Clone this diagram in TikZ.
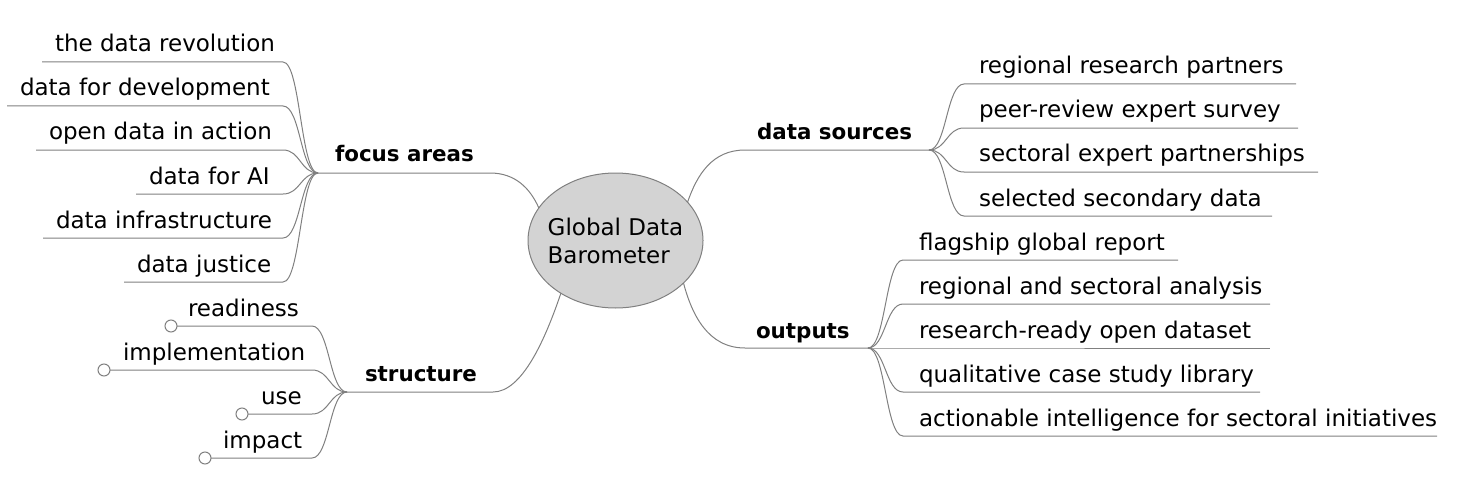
\documentclass[tikz,border=0pt]{standalone}
\usepackage{fontspec}
\setmainfont{DejaVu Sans}
\usetikzlibrary{shapes.geometric}
\definecolor{edgegray}{HTML}{808080}
\definecolor{rootfill}{HTML}{D3D3D3}
\begin{document}
\begin{tikzpicture}[x=0.5pt,y=-0.5pt,
  edge/.style={draw=edgegray,line width=0.5pt},
  leaf/.style={inner sep=0pt,outer sep=0pt,font=\fontsize{11.5pt}{14pt}\selectfont},
  branch/.style={inner sep=0pt,outer sep=0pt,font=\fontsize{10.7pt}{13pt}\selectfont\bfseries},
  fold/.style={circle,draw=edgegray,fill=white,line width=0.5pt,minimum size=6pt,inner sep=0pt,outer sep=0pt}]
\useasboundingbox (0,0) rectangle (1460,476);

% root
\node[ellipse,draw=edgegray,fill=rootfill,line width=0.5pt,minimum width=87.5pt,minimum height=67.5pt,
      inner xsep=-3.3pt,inner ysep=0pt,outer sep=0pt,align=left,font=\fontsize{11.5pt}{14pt}\selectfont] (root) at (615.5,240.5) {Global Data\\Barometer};

% focus areas
\coordinate (fa) at (318,173);
\coordinate (faE) at (490,173);
\node[branch,anchor=base west] (faT) at (335,162) {focus areas};
\draw[edge] (fa) -- (faE) .. controls (515,173) and (530,188) .. (root.157);
\foreach \nm/\y/\lx/\txt in {fa1/62/42/the data revolution, fa2/106/7/data for development, fa3/150/36/open data in action, fa4/194/136/data for AI, fa5/238/43/data infrastructure, fa6/282/124/data justice}{
  \coordinate (\nm L) at (\lx,\y);
  \coordinate (\nm R) at (283,\y);
  \node[leaf,anchor=base west] (\nm T) at (\lx+13,\y-10) {\txt};
  \draw[edge] (\nm L) -- (\nm R) .. controls (300.5,\y) and (300.5,173) .. (fa);
}

% structure
\coordinate (st) at (347,392);
\coordinate (stE) at (493,392);
\node[branch,anchor=base west] (stT) at (365,381) {structure};
\draw[edge] (st) -- (stE) .. controls (522,392) and (545,340) .. (root.224);
\foreach \nm/\y/\cx/\tx/\txt in {st1/326/171/188/readiness, st2/370/104/123/implementation, st3/414/242/261/use, st4/458/205/223/impact}{
  \node[fold] (\nm C) at (\cx,\y) {};
  \coordinate (\nm R) at (312,\y);
  \node[leaf,anchor=base west] (\nm T) at (\tx,\y-10) {\txt};
  \draw[edge] (\nm C.east) -- (\nm R) .. controls (329.5,\y) and (329.5,392) .. (st);
}

% data sources
\coordinate (ds) at (929,150);
\coordinate (dsW) at (745,150);
\node[branch,anchor=base west] (dsT) at (757,140) {data sources};
\draw[edge] (root.28) .. controls (697,175) and (712,150) .. (dsW) -- (ds);
\foreach \nm/\y/\rx/\txt in {ds1/84/1296/regional research partners, ds2/128/1298/peer-review expert survey, ds3/172/1318/sectoral expert partnerships, ds4/216/1272/selected secondary data}{
  \coordinate (\nm L) at (964,\y);
  \coordinate (\nm R) at (\rx,\y);
  \node[leaf,anchor=base west] (\nm T) at (979,\y-10) {\txt};
  \draw[edge] (ds) .. controls (946.5,150) and (946.5,\y) .. (\nm L) -- (\nm R);
}

% outputs
\coordinate (ou) at (868,348);
\coordinate (ouW) at (745,348);
\node[branch,anchor=base west] (ouT) at (756,338) {outputs};
\draw[edge] (root.-32) .. controls (692,315) and (708,348) .. (ouW) -- (ou);
\foreach \nm/\y/\rx/\txt in {ou1/260/1178/flagship global report, ou2/304/1270/regional and sectoral analysis, ou3/348/1270/research-ready open dataset, ou4/392/1260/qualitative case study library, ou5/436/1437/actionable intelligence for sectoral initiatives}{
  \coordinate (\nm L) at (903,\y);
  \coordinate (\nm R) at (\rx,\y);
  \node[leaf,anchor=base west] (\nm T) at (919,\y-10) {\txt};
  \draw[edge] (ou) .. controls (885.5,348) and (885.5,\y) .. (\nm L) -- (\nm R);
}
\end{tikzpicture}
\end{document}
